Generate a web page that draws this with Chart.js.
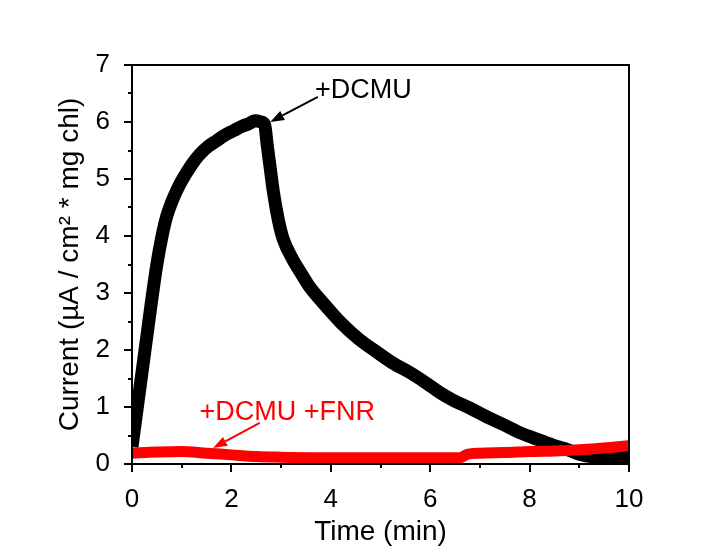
<!DOCTYPE html>
<html>
<head>
<meta charset="utf-8">
<script src="https://cdn.jsdelivr.net/npm/chart.js@4.4.1/dist/chart.umd.min.js"></script>
<style>
  html, body { margin: 0; padding: 0; background: #fff; }
  #wrap { width: 720px; height: 549px; position: relative; }
</style>
</head>
<body>
<div id="wrap"><canvas id="chart"></canvas></div>
<script>
// time (min) and current values
var dcmuTime = [0, 0.1, 0.2, 0.3, 0.4, 0.5, 0.6, 0.7, 0.8, 0.9, 1.0, 1.2, 1.35, 1.53,
  1.7, 1.87, 2.05, 2.2, 2.35, 2.47, 2.6, 2.67, 2.72, 2.78, 2.84, 2.94, 3.04, 3.24, 3.4, 3.58, 3.75,
  3.91, 4.2, 4.58, 4.9, 5.25, 5.6, 5.92, 6.2, 6.46, 6.8, 7.13, 7.5, 7.8, 8.1, 8.47, 8.8, 9.0, 9.3, 9.6, 10.0];
var dcmuCurrent = [0.3, 0.95, 1.6, 2.25, 2.9, 3.5, 3.98, 4.35, 4.6, 4.8, 4.97, 5.25, 5.42, 5.57,
  5.67, 5.77, 5.85, 5.92, 5.97, 6.02, 6.0, 5.95, 5.6, 5.2, 4.8, 4.3, 3.95, 3.58, 3.35, 3.1, 2.92,
  2.76, 2.48, 2.18, 1.98, 1.77, 1.6, 1.42, 1.25, 1.12, 0.98, 0.83, 0.68, 0.55, 0.45, 0.33, 0.24, 0.17, 0.12, 0.11, 0.12];

var fnrTime = [0, 0.5, 1.0, 1.5, 2.0, 2.5, 3.0, 4.0, 5.0, 6.0, 6.6, 6.75, 7.0, 7.5, 8.0, 8.5, 9.0, 9.5, 10.0];
var fnrCurrent = [0.19, 0.21, 0.22, 0.19, 0.16, 0.13, 0.12, 0.11, 0.11, 0.11, 0.11, 0.17, 0.19, 0.2, 0.22, 0.23, 0.25, 0.28, 0.32];

var xTicks = [0, 2, 4, 6, 8, 10];
var yTicks = [0, 1, 2, 3, 4, 5, 6, 7];

function toPoints(xs, ys) {
  return xs.map(function (x, i) { return { x: x, y: ys[i] }; });
}

// labels with arrows, in data units
var notes = [
  { text: "+DCMU", color: "#000", tx: 3.68, ty: 6.56, from: [3.74, 6.44], to: [2.78, 6.0] },
  { text: "+DCMU +FNR", color: "#ff0000", tx: 1.36, ty: 0.91, from: [2.57, 0.72], to: [1.63, 0.28] }
];

Chart.defaults.font.family = "'Liberation Sans', Arial, sans-serif";
Chart.defaults.color = "#000";

// frame, outward ticks and arrow labels
var framePlugin = {
  id: "frame",
  afterDraw: function (chart) {
    var c = chart.ctx, a = chart.chartArea;
    var xs = chart.scales.x, ys = chart.scales.y;
    c.save();
    c.strokeStyle = "#000";
    c.lineWidth = 2;
    c.strokeRect(a.left, a.top, a.right - a.left, a.bottom - a.top);
    c.beginPath();
    for (var t = 0; t <= 10; t++) {
      var px = Math.round(xs.getPixelForValue(t));
      var len = t % 2 === 0 ? 8 : 4;
      c.moveTo(px, a.bottom);
      c.lineTo(px, a.bottom + len);
    }
    for (var v = 0; v <= 7; v += 0.5) {
      var py = Math.round(ys.getPixelForValue(v));
      var l = v % 1 === 0 ? 8 : 4;
      c.moveTo(a.left, py);
      c.lineTo(a.left - l, py);
    }
    c.stroke();

    notes.forEach(function (n) {
      c.fillStyle = n.color;
      c.strokeStyle = n.color;
      c.font = "27px 'Liberation Sans', Arial, sans-serif";
      c.textBaseline = "middle";
      c.textAlign = "left";
      c.fillText(n.text, xs.getPixelForValue(n.tx), ys.getPixelForValue(n.ty));
      var x1 = xs.getPixelForValue(n.from[0]), y1 = ys.getPixelForValue(n.from[1]);
      var x2 = xs.getPixelForValue(n.to[0]), y2 = ys.getPixelForValue(n.to[1]);
      var ang = Math.atan2(y2 - y1, x2 - x1);
      var hl = 14, hw = 5;
      var bx = x2 - hl * Math.cos(ang), by = y2 - hl * Math.sin(ang);
      c.lineWidth = 2;
      c.beginPath();
      c.moveTo(x1, y1);
      c.lineTo(bx, by);
      c.stroke();
      c.beginPath();
      c.moveTo(x2, y2);
      c.lineTo(bx + hw * Math.sin(ang), by - hw * Math.cos(ang));
      c.lineTo(bx - hw * Math.sin(ang), by + hw * Math.cos(ang));
      c.closePath();
      c.fill();
    });
    c.restore();
  }
};

var chart = new Chart(document.getElementById("chart"), {
  type: "line",
  data: {
    datasets: [
      {
        label: "+DCMU +FNR",
        data: toPoints(fnrTime, fnrCurrent),
        borderColor: "#ff0000",
        borderWidth: 11,
        pointRadius: 0,
        cubicInterpolationMode: "monotone",
        order: 0
      },
      {
        label: "+DCMU",
        data: toPoints(dcmuTime, dcmuCurrent),
        borderColor: "#000",
        borderWidth: 13,
        pointRadius: 0,
        cubicInterpolationMode: "monotone",
        order: 1
      }
    ]
  },
  options: {
    responsive: true,
    maintainAspectRatio: false,
    animation: false,
    layout: { padding: { left: 0, right: 91, top: 65, bottom: 0 } },
    plugins: {
      legend: { display: false },
      tooltip: { enabled: false }
    },
    scales: {
      x: {
        type: "linear",
        min: 0,
        max: 10,
        afterBuildTicks: function (s) { s.ticks = xTicks.map(function (v) { return { value: v }; }); },
        afterFit: function (s) { s.height = 85; },
        grid: { display: false },
        border: { display: false },
        ticks: { font: { size: 26 }, padding: 12, maxRotation: 0 },
        title: { display: true, text: "Time (min)", font: { size: 28 }, padding: { top: 0, bottom: 0 } }
      },
      y: {
        type: "linear",
        min: 0,
        max: 7,
        afterBuildTicks: function (s) { s.ticks = yTicks.map(function (v) { return { value: v }; }); },
        afterFit: function (s) { s.width = 132; },
        grid: { display: false },
        border: { display: false },
        ticks: { font: { size: 26 }, padding: 14 },
        title: { display: true, text: "Current (µA / cm² * mg chl)", font: { size: 28 }, padding: { top: 53, bottom: 0 } }
      }
    }
  },
  plugins: [framePlugin]
});
</script>
</body>
</html>
